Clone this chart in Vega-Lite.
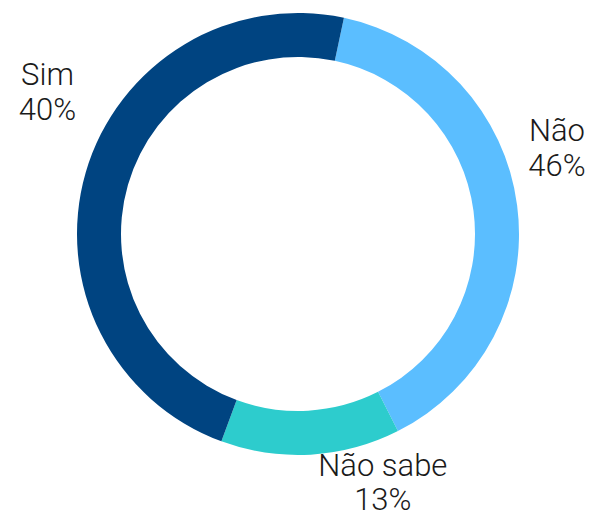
{
  "$schema": "https://vega.github.io/schema/vega-lite/v6.json",
  "width": 596,
  "height": 468,
  "padding": 0,
  "autosize": {"type": "pad"},
  "background": "white",
  "config": {"view": {"stroke": null}},
  "data": {
    "values": [
      {"cat": "Não", "value": 39.2, "order": 1, "label": "Não\n46%"},
      {"cat": "Não sabe", "value": 13.1, "order": 2, "label": "Não sabe\n13%"},
      {"cat": "Sim", "value": 47.7, "order": 3, "label": "Sim\n40%"}
    ]
  },
  "encoding": {
    "theta": {"field": "value", "type": "quantitative", "stack": true, "scale": {"range": [0.2094, 6.4926]}},
    "order": {"field": "order", "type": "quantitative"}
  },
  "layer": [
    {
      "mark": {"type": "arc", "outerRadius": 221, "innerRadius": 177},
      "encoding": {
        "color": {"field": "cat", "type": "nominal", "scale": {"domain": ["Não", "Não sabe", "Sim"], "range": ["#5BBEFF", "#2DCCCD", "#004481"]}, "legend": null}
      }
    },
    {
      "mark": {"type": "text", "radius": 240, "dx": -20, "dy": -91, "fontSize": 31, "font": "Roboto", "fontWeight": 300, "lineBreak": "\n", "lineHeight": 35, "color": "#1a1a1a", "align": "center", "baseline": "middle"},
      "encoding": {"text": {"condition": {"test": "datum.cat === 'Sim'", "field": "label"}, "value": ""}}
    },
    {
      "mark": {"type": "text", "radius": 240, "dx": 21, "dy": -71, "fontSize": 31, "font": "Roboto", "fontWeight": 300, "lineBreak": "\n", "lineHeight": 35, "color": "#1a1a1a", "align": "center", "baseline": "middle"},
      "encoding": {"text": {"condition": {"test": "datum.cat === 'Não'", "field": "label"}, "value": ""}}
    },
    {
      "mark": {"type": "text", "radius": 240, "dx": 71, "dy": -7, "fontSize": 31, "font": "Roboto", "fontWeight": 300, "lineBreak": "\n", "lineHeight": 34, "color": "#1a1a1a", "align": "center", "baseline": "middle"},
      "encoding": {"text": {"condition": {"test": "datum.cat === 'Não sabe'", "field": "label"}, "value": ""}}
    }
  ]
}
